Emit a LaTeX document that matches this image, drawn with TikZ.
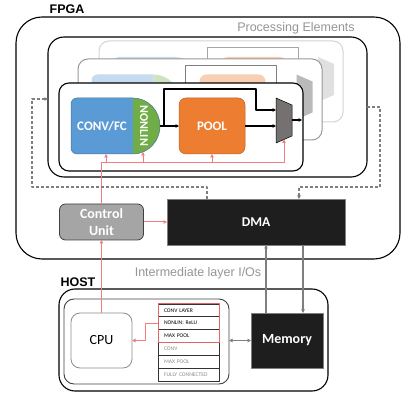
\documentclass[tikz,border=0pt]{standalone}
\usepackage{fontspec}
\setmainfont{Carlito}
\newfontfamily\arial{Liberation Sans}
\usetikzlibrary{arrows.meta}

\definecolor{convblue}{HTML}{5B9BD5}
\definecolor{nlgreen}{HTML}{70AD47}
\definecolor{poolorange}{HTML}{ED7D31}
\definecolor{muxgray}{HTML}{767171}
\definecolor{ctlred}{HTML}{F47C7C}
\definecolor{boxred}{HTML}{E06666}
\definecolor{fadeblue}{HTML}{C6DAF0}
\definecolor{fadegreen}{HTML}{CFE3C3}
\definecolor{fadeorange}{HTML}{F9CFB3}
\definecolor{darkbox}{HTML}{1E1E1E}
\definecolor{linegray}{HTML}{7F7F7F}
\definecolor{captiongray}{HTML}{959595}
\definecolor{ctlgray}{HTML}{A5A5A5}

% one faded processing element (shapes only), used for the stacked copies
\newcommand\fadedunit[3]{%
  \draw[color=#3, line width=1pt] (165,126) -- (165,89) -- (256,89) -- (256,110);
  \fill[fadeblue] (133,98) -- (77,98) arc[start angle=-90,end angle=-180,radius=6]
        -- (71,148) arc[start angle=180,end angle=90,radius=6] -- (133,154) -- cycle;
  \fill[fadegreen] (133,98) arc[start angle=-90,end angle=90,x radius=27,y radius=28] -- cycle;
  \fill[fadeorange, rounded corners=7pt] (179,98) rectangle (245,154);
  \fill[#1] (276,98) -- (292,105) -- (292,136) -- (276,143) -- cycle;
}

\tikzset{
  box/.style={inner sep=0pt, outer sep=0pt},
  lbl/.style={text=white, font=\fontsize{13}{15}\selectfont\bfseries},
  biglbl/.style={text=white, font=\fontsize{14}{17}\selectfont\bfseries},
  headlbl/.style={font=\arial\fontsize{12.5}{14}\selectfont\bfseries},
  greylbl/.style={text=captiongray, font=\arial\fontsize{12.5}{14}\selectfont},
  arr/.style={-{Triangle[length=3.5pt,width=3.5pt]}},
  blackline/.style={line width=1.2pt, black},
  redline/.style={line width=1pt, ctlred},
  grayline/.style={line width=1.2pt, linegray},
  dashline/.style={line width=1.2pt, linegray, dash pattern=on 3pt off 2pt},
  tabrow/.style={box, draw=black!80, line width=0.8pt, minimum width=61pt,
    minimum height=12.83pt, text width=49pt, align=left,
    font=\fontsize{5.6}{6}\selectfont},
}

\begin{document}
\begin{tikzpicture}[x=1pt, y=-1pt, line join=round]
\useasboundingbox (0,0) rectangle (402,395);

% ---------------- FPGA ----------------
\node[box, draw=black, line width=1.1pt, rounded corners=26pt,
      minimum width=384pt, minimum height=242pt] (fpga) at (208,138) {};
\node[headlbl] (fpgalbl) at (67,9) {FPGA};

% processing element group
\node[box, draw=black, line width=1.1pt, rounded corners=16pt,
      minimum width=319pt, minimum height=140pt] (pe) at (207.5,107) {};
\node[greylbl] (pelbl) at (296,28) {Processing Elements};

% back copy
\node[box, draw=black!17, fill=white, line width=1pt, rounded corners=10pt,
      minimum width=244pt, minimum height=81pt] (card3) at (221,81.5) {};
\begin{scope}[shift={(42,-41)}]
  \fadedunit{black!12}{}{black!35}
\end{scope}

% middle copy
\node[box, draw=black!40, fill=white, line width=1pt, rounded corners=10pt,
      minimum width=244pt, minimum height=81pt] (card2) at (200,99.5) {};
\begin{scope}[shift={(20.5,-23.5)}]
  \fadedunit{black!27}{}{black!50}
\end{scope}

% front element
\node[box, draw=black, fill=white, line width=1.1pt, rounded corners=10pt,
      minimum width=244pt, minimum height=88pt] (card1) at (181,127) {};

\fill[convblue] (133,98) -- (77,98) arc[start angle=-90,end angle=-180,radius=6]
      -- (71,148) arc[start angle=180,end angle=90,radius=6] -- (133,154) -- cycle;
\fill[nlgreen] (133,98) arc[start angle=-90,end angle=90,x radius=27,y radius=28] -- cycle;
\draw[convblue!75!black, line width=0.5pt] (133,98) -- (77,98)
      arc[start angle=-90,end angle=-180,radius=6] -- (71,148)
      arc[start angle=180,end angle=90,radius=6] -- (133,154)
      arc[start angle=90,end angle=-90,x radius=27,y radius=28];
\node[lbl] (conv) at (102,126) {CONV/FC};
\node[box, lbl, font=\fontsize{12}{14}\selectfont\bfseries, rotate=-90] (nonlin) at (144,126) {NONLIN};
\coordinate (nlout) at (160,126);
\coordinate (convbot) at (106,154);
\coordinate (nlbot) at (143,152);

\node[box, lbl, fill=poolorange, draw=poolorange!80!black, line width=0.5pt,
      rounded corners=7pt, minimum width=66pt, minimum height=56pt] (pool) at (212,126) {POOL};

% multiplexer
\coordinate (mtl) at (276,98);
\coordinate (mtr) at (292,105);
\coordinate (mbr) at (292,136);
\coordinate (mbl) at (276,143);
\fill[muxgray] (mtl) -- (mtr) -- (mbr) -- (mbl) -- cycle;
\draw[black, line width=0.5pt] (mtl) -- (mtr) -- (mbr) -- (mbl) -- cycle;
\coordinate (muxin1) at (276,110);
\coordinate (muxin2) at (276,126);
\coordinate (muxout) at (292,120);
\coordinate (muxbot) at (284,139.5);
\coordinate (peout) at (302,120);

% data path
\coordinate (split) at (164,126);
\draw[blackline, arr] (nlout) -- (pool.west);
\draw[blackline, arr] (split) -- (164,89) -- (256,89) -- (256,110) -- (muxin1);
\draw[blackline, arr] (pool.east) -- (muxin2);
\draw[blackline, arr] (muxout) -- (peout);

% ---------------- control unit, DMA ----------------
\node[box, biglbl, fill=ctlgray, draw=black!75, line width=0.8pt, rounded corners=6pt,
      minimum width=84pt, minimum height=36pt, align=center] (ctrl) at (101.5,222) {Control\\Unit};
\node[box, biglbl, font=\fontsize{13.5}{16}\selectfont\bfseries, fill=darkbox, draw=linegray,
      line width=0.6pt, minimum width=178pt, minimum height=46pt] (dma) at (256,222) {DMA};

% control signals
\coordinate (bus) at (101.5,163);
\draw[redline, arr] (ctrl.north) -- (bus) -| (muxbot);
\draw[redline, arr] (106,163) -- (convbot);
\draw[redline, arr] (nlbot |- bus) -- (nlbot);
\draw[redline, arr] (pool.south |- bus) -- (pool.south);
\draw[redline, arr] (ctrl.east) -- (dma.west);

% DMA <-> processing elements
\coordinate (dl) at (207,199);
\coordinate (dr) at (299,199);
\draw[dashline, arr] (dl) -- (207,187) -- (32,187) -- (32,99) -- (pe.west |- 32,99);
\draw[dashline, arr] (pe.east |- 0,107) -- (380,107) -- (380,187) -- (299,187) -- (dr);

% ---------------- HOST ----------------
\node[greylbl] (iolbl) at (198,273) {Intermediate layer I/Os};
\node[headlbl] (hostlbl) at (78,282) {HOST};
\node[box, draw=black, line width=1.1pt, rounded corners=16pt,
      minimum width=269pt, minimum height=102pt] (host) at (193.5,340) {};
\node[box, draw=black!75, line width=0.9pt, rounded corners=10pt,
      minimum width=165pt, minimum height=85pt] (hostin) at (146.5,341.5) {};
\node[box, draw=black!45, line width=0.8pt, rounded corners=9pt,
      minimum width=61pt, minimum height=55pt, font=\fontsize{14}{16}\selectfont] (cpu) at (101.5,340.5) {CPU};
\node[box, biglbl, fill=darkbox, draw=linegray, line width=0.6pt,
      minimum width=72pt, minimum height=55pt] (mem) at (287,340.5) {Memory};

% layer list
\node[tabrow] (r1) at (188.5,310.4) {CONV LAYER};
\node[tabrow] (r2) at (188.5,323.2) {NONLIN: ReLU};
\node[tabrow] (r3) at (188.5,336.1) {MAX POOL};
\node[tabrow, text=black!45] (r4) at (188.5,348.9) {CONV};
\node[tabrow, text=black!45] (r5) at (188.5,361.7) {MAX POOL};
\node[tabrow, text=black!45] (r6) at (188.5,374.6) {FULLY CONNECTED};
\draw[boxred, line width=1pt] (r1.north west) rectangle (r3.south east);

% host connections
\draw[redline, arr] (r2.west) -- ++(-13,0) |- (cpu.east);
\draw[redline, arr] (cpu.north) -- (ctrl.south);
\draw[grayline, {Triangle[length=3.5pt,width=3.5pt]}-{Triangle[length=3.5pt,width=3.5pt]}]
      (hostin.east |- mem.west) -- (mem.west);
\draw[grayline, arr] ([xshift=-21pt]mem.north) -- ([xshift=-21pt]mem.north |- dma.south);
\draw[grayline, arr] ([xshift=16pt]mem.north |- dma.south) -- ([xshift=16pt]mem.north);

\end{tikzpicture}
\end{document}
